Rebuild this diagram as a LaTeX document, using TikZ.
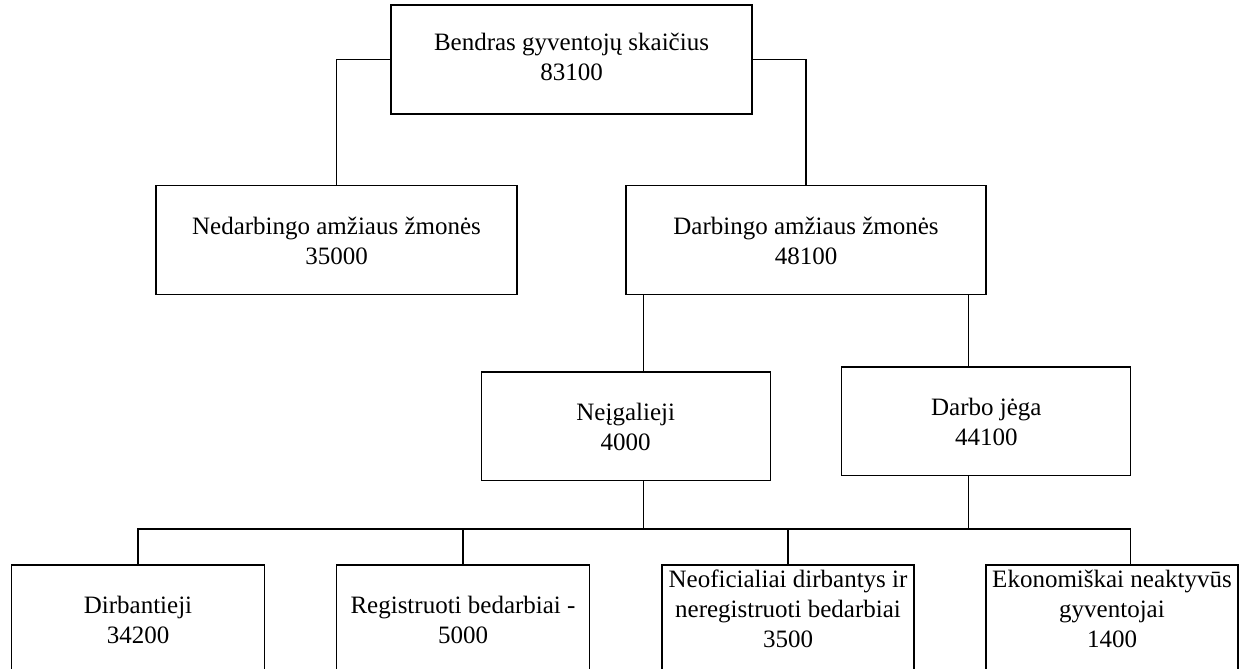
\documentclass[tikz,border=0pt]{standalone}
\usepackage{fontspec}
\setmainfont{Liberation Serif}
\newcommand\mystrut{\rule[-6pt]{0pt}{30pt}}
\begin{document}
\begin{tikzpicture}[x=1pt,y=-1pt,
  box/.style={draw, line width=1.3pt, rectangle, inner sep=0pt, align=center, font=\fontsize{25}{30}\selectfont},
  txt/.style={inner sep=0pt, align=center, font=\fontsize{25}{30}\selectfont},
  wire/.style={line width=1.3pt}]
\useasboundingbox (0,0) rectangle (1243,669);
\node[box, minimum width=361pt, minimum height=109pt] (top) at (571.5,59.5) {\strut Bendras gyventojų skaičius\\83100\strut};
\node[box, minimum width=361pt, minimum height=108.6pt] (ned) at (336.5,240) {\mystrut Nedarbingo amžiaus žmonės\\35000\mystrut};
\node[box, minimum width=360pt, minimum height=108.6pt] (dar) at (806,240) {\mystrut Darbingo amžiaus žmonės\\48100\mystrut};
\node[box, minimum width=289pt, minimum height=108.3pt] (neig) at (625.7,426) {\mystrut Neįgalieji\\4000\mystrut};
\node[box, minimum width=289pt, minimum height=108.3pt] (djeg) at (986.3,421) {\mystrut Darbo jėga\\44100\mystrut};
\node[box, minimum width=253pt, minimum height=140pt] (b1) at (138,635) {};
\node[box, minimum width=253pt, minimum height=140pt] (b2) at (463,635) {};
\node[box, minimum width=252pt, minimum height=140pt] (b3) at (788,635) {};
\node[box, minimum width=252pt, minimum height=140pt] (b4) at (1112,635) {};
\node[txt] (t1) at (138,622) {\strut Dirbantieji\\34200\strut};
\node[txt] (t2) at (463,622) {\strut Registruoti bedarbiai -\\5000\strut};
\node[txt] (t3) at (788,611) {\strut Neoficialiai dirbantys ir\\neregistruoti bedarbiai\\3500\strut};
\node[txt] (t4) at (1112,611) {\strut Ekonomiškai neaktyvūs\\gyventojai\\1400\strut};
\coordinate (cl) at (643.3,0);
\coordinate (cr) at (968.3,0);
\coordinate (c4) at (1130.5,0);
\coordinate (bus) at (0,529);
\draw[wire] (top.west) -| (ned.north);
\draw[wire] (top.east) -| (dar.north);
\draw[wire] (dar.south -| cl) -- (neig.north -| cl);
\draw[wire] (dar.south -| cr) -- (djeg.north -| cr);
\draw[wire] (neig.south -| cl) -- (cl |- bus);
\draw[wire] (djeg.south -| cr) -- (cr |- bus);
\draw[wire] (b1.north) -- (b1.north |- bus) -- (c4 |- bus) -- (c4 |- b4.north);
\draw[wire] (b2.north) -- (b2.north |- bus);
\draw[wire] (b3.north) -- (b3.north |- bus);
\end{tikzpicture}
\end{document}
